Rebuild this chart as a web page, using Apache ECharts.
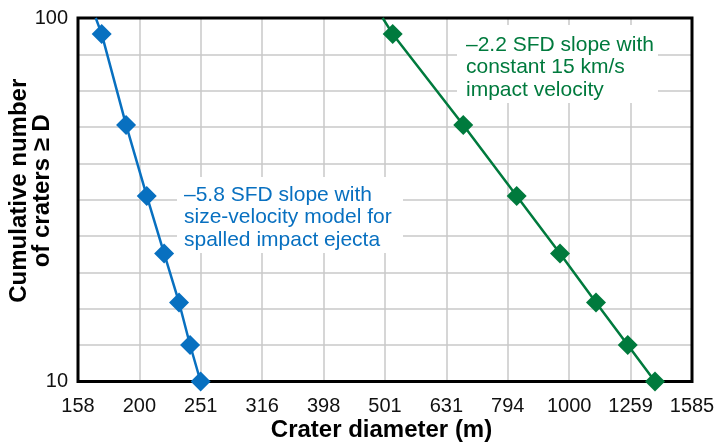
<!DOCTYPE html>
<html><head><meta charset="utf-8">
<script src="https://cdn.jsdelivr.net/npm/echarts@6/dist/echarts.min.js"></script>
<style>html,body{margin:0;padding:0;background:#fff}#c{width:717px;height:447px}</style>
</head><body><div id="c"></div>
<script>
// Cumulative number of craters >= D (shared by both curves)
const counts = [90.4, 50.8, 32.4, 22.5, 16.5, 12.6, 10];
// Crater diameters (m) for the -5.8 slope (size-velocity model)
const blueDiam = [173.2, 189.8, 205.1, 218.9, 231.5, 241.3, 251.0];
// Crater diameters (m) for the -2.2 slope (constant 15 km/s)
const greenDiam = [515.8, 672.1, 821.3, 966.1, 1105.7, 1245.6, 1379.6];
// where each fitted line leaves the top of the plot
const blueLineTop = [169.4, 100];
const greenLineTop = [496.8, 100];
// tick labels
const xTickLabels = ['158','200','251','316','398','501','631','794','1000','1259','1585'];
const yTickLabels = ['10','100'];

const FONT = '"Liberation Sans", Arial, Helvetica, sans-serif';
const BLUE = '#0870c0';
const GREEN = '#007a3d';

function pickLabel(list, v) {
  const hit = list.find(l => Math.abs(Number(l) - v) / v < 0.01);
  return hit === undefined ? '' : hit;
}
function buildSeries(top, diam) {
  return [{ value: top, symbol: 'none' }].concat(diam.map((d, i) => [d, counts[i]]));
}

const chart = echarts.init(document.getElementById('c'), null, { renderer: 'canvas' });
const tenth = Math.pow(10, 0.1);
chart.setOption({
  animation: false,
  backgroundColor: '#fff',
  grid: { left: 78, right: 25, top: 18, bottom: 65.5, containLabel: false, outerBoundsMode: 'none',
    show: true, borderColor: '#000', borderWidth: 3, z: 1 },
  xAxis: {
    type: 'log', logBase: tenth,
    min: Math.pow(10, 2.2), max: Math.pow(10, 3.2), interval: 1,
    name: 'Crater diameter (m)', nameLocation: 'middle', nameGap: 37, nameMoveOverlap: false,
    nameTextStyle: { fontSize: 24, fontWeight: 'bold', color: '#000', fontFamily: FONT, padding: [0, 7, 0, 0] },
    axisLine: { show: false }, axisTick: { show: false },
    axisLabel: { fontSize: 20, color: '#111', fontFamily: FONT, margin: 15,
      formatter: v => pickLabel(xTickLabels, v) },
    splitLine: { show: true, lineStyle: { color: '#c8c8c8', width: 1.5 } }
  },
  yAxis: {
    type: 'log', logBase: tenth,
    min: 10, max: 100, interval: 1,
    name: 'Cumulative number\nof craters \u2265 D', nameLocation: 'middle', nameGap: 24, nameMoveOverlap: false,
    nameTextStyle: { fontSize: 24, fontWeight: 'bold', color: '#000', fontFamily: FONT, lineHeight: 23,
      padding: [0, 0, 0, 18] },
    axisLine: { show: false }, axisTick: { show: false },
    axisLabel: { fontSize: 20, color: '#111', fontFamily: FONT, margin: 10, padding: [3, 0, 0, 0],
      formatter: v => pickLabel(yTickLabels, v) },
    splitLine: { show: true, lineStyle: { color: '#c8c8c8', width: 1.5 } }
  },
  series: [
    { type: 'line', data: buildSeries(blueLineTop, blueDiam), symbol: 'diamond', symbolSize: 20,
      clip: false, z: 3,
      lineStyle: { color: BLUE, width: 2.5 }, itemStyle: { color: BLUE } },
    { type: 'line', data: buildSeries(greenLineTop, greenDiam), symbol: 'diamond', symbolSize: 20,
      clip: false, z: 3,
      lineStyle: { color: GREEN, width: 2.5 }, itemStyle: { color: GREEN } }
  ],
  graphic: [
    { type: 'rect', left: 177, top: 177, z: 10, shape: { width: 226, height: 76 }, style: { fill: '#fff' } },
    { type: 'text', left: 184, top: 183.5, z: 11, style: { text: '\u20135.8 SFD slope with\nsize-velocity model for\nspalled impact ejecta',
        fill: BLUE, font: '21px ' + FONT, lineHeight: 22.5 } },
    { type: 'rect', left: 457, top: 25, z: 10, shape: { width: 201, height: 78 }, style: { fill: '#fff' } },
    { type: 'text', left: 466, top: 33.5, z: 11, style: { text: '\u20132.2 SFD slope with\nconstant 15 km/s\nimpact velocity',
        fill: GREEN, font: '21px ' + FONT, lineHeight: 22.5 } }
  ]
});
</script></body></html>
